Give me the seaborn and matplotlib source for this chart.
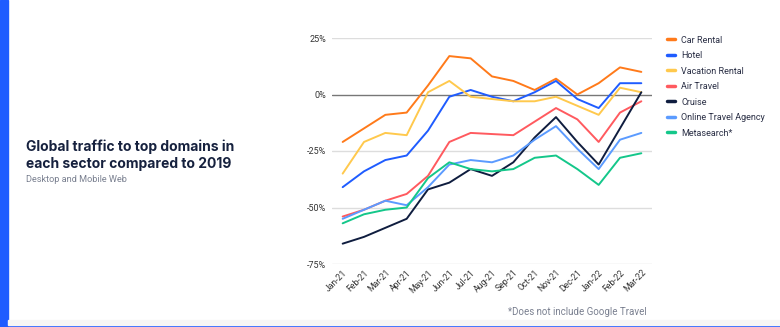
import matplotlib
matplotlib.use("Agg")
import matplotlib.pyplot as plt
import seaborn as sns
import pandas as pd
from matplotlib.lines import Line2D
from matplotlib.patches import Rectangle

months = ["Jan-21", "Feb-21", "Mar-21", "Apr-21", "May-21", "Jun-21", "Jul-21", "Aug-21",
          "Sep-21", "Oct-21", "Nov-21", "Dec-21", "Jan-22", "Feb-22", "Mar-22"]

car_rental = [-21, -15, -9, -8, 4, 17, 16, 8, 6, 2, 7, 0, 5, 12, 10]
hotel = [-41, -34, -29, -27, -16, -1, 2, -1, -3, 1, 6, -2, -6, 5, 5]
vacation_rental = [-35, -21, -17, -18, 1, 6, -1, -2, -3, -3, -1, -5, -9, 3, 1]
air_travel = [-54, -51, -47, -44, -36, -21, -17, -17.5, -18, -12, -6, -11, -21, -8, -3]
cruise = [-66, -63, -59, -55, -42, -39, -33, -36, -30, -19, -10, -21, -31, -15, 1]
online_travel_agency = [-55, -51, -47, -49, -41, -31, -29, -30, -27, -20, -14, -24, -33, -20, -17]
metasearch = [-57, -53, -51, -50, -37, -30, -33, -34, -33, -28, -27, -33, -40, -28, -26]

series_names = ["Car Rental", "Hotel", "Vacation Rental", "Air Travel", "Cruise",
                "Online Travel Agency", "Metasearch*"]
series_values = [car_rental, hotel, vacation_rental, air_travel, cruise,
                 online_travel_agency, metasearch]
colors = ["#ff7a1a", "#1f5cff", "#ffc94d", "#ff5a5f", "#0f1d3f", "#5b9bff", "#14c78a"]
y_ticks = [25, 0, -25, -50, -75]

rows = []
for name, vals in zip(series_names, series_values):
    for i, (m, v) in enumerate(zip(months, vals)):
        rows.append({"idx": i, "month": m, "value": v, "series": name})
df = pd.DataFrame(rows)

sns.set_theme(style="white")
plt.rcParams["font.family"] = ["Roboto", "DejaVu Sans"]

fig = plt.figure(figsize=(7.8, 3.27), dpi=100)
fig.patch.set_facecolor("white")

# decorative borders
fig.add_artist(Rectangle((0, 0), 8 / 780, 1, transform=fig.transFigure, color="#1f5cff", zorder=0))
fig.add_artist(Rectangle((0, 0), 1, 2 / 327, transform=fig.transFigure, color="#1f5cff", zorder=0))
fig.add_artist(Rectangle((8 / 780, 2 / 327), 1, 5 / 327, transform=fig.transFigure, color="#f7f7f5", zorder=0))

ax = fig.add_axes([332 / 780, 1 - 264 / 327, (652 - 332) / 780, (264 - 38) / 327])
sns.lineplot(data=df, x="idx", y="value", hue="series", hue_order=series_names,
             palette=colors, linewidth=1.4, ax=ax, legend=False, sort=False)

ax.set_xlim(-0.5, 14.5)
ax.set_ylim(-75, 25)
ax.set_xticks(range(len(months)))
ax.set_xticklabels(months, rotation=45, ha="right", rotation_mode="anchor",
                   fontsize=6.2, color="#333333")
ax.set_yticks(y_ticks)
ax.set_yticklabels([f"{t}%" for t in y_ticks], fontsize=6.5, color="#333333")
ax.tick_params(axis="both", length=0, pad=4)
ax.tick_params(axis="x", pad=3)
for t in y_ticks:
    if t == 0:
        ax.axhline(t, color="#777777", linewidth=1.0, zorder=0.5)
    else:
        ax.axhline(t, color="#dddddd", linewidth=1.0, zorder=0.5)
for s in ax.spines.values():
    s.set_visible(False)
ax.set_xlabel("")
ax.set_ylabel("")
ax.set_facecolor("none")

handles = [Line2D([0], [0], color=c, linewidth=2.5) for c in colors]
leg = fig.legend(handles, series_names, loc="upper left",
                 bbox_to_anchor=(663 / 780, 1 - 32 / 327), frameon=False,
                 fontsize=6.5, handlelength=0.9, handletextpad=0.7,
                 labelspacing=0.72, borderaxespad=0)
for txt in leg.get_texts():
    txt.set_color("#2a2f45")

fig.text(26 / 780, 1 - 155 / 327, "Global traffic to top domains in\neach sector compared to 2019",
         fontsize=10, fontweight="bold", color="#16213e", va="center", ha="left",
         linespacing=1.25, family=["Inter", "DejaVu Sans"])
fig.text(26 / 780, 1 - 180 / 327, "Desktop and Mobile Web", fontsize=6.6,
         color="#7a8090", va="center", ha="left")
fig.text(647 / 780, 1 - 312 / 327, "*Does not include Google Travel", fontsize=7,
         color="#7a8090", va="center", ha="right")

fig.savefig("out.png", dpi=100, facecolor="white")
